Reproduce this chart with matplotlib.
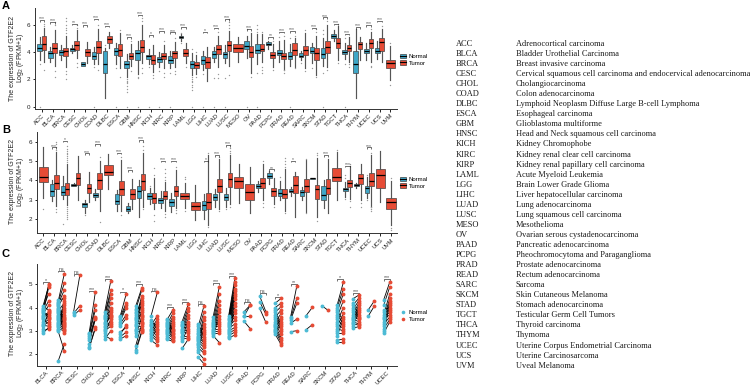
import matplotlib
matplotlib.use("Agg")
import matplotlib.pyplot as plt
from matplotlib.patches import Patch
from matplotlib.lines import Line2D
from matplotlib.legend_handler import HandlerTuple

plt.rcParams['font.family'] = ['Liberation Sans', 'DejaVu Sans']
plt.rcParams['mathtext.default'] = 'regular'

W, H = 750, 385
BLUE = '#3FA7C8'
RED = '#E64B35'
DOT_BLUE = '#4DBBD5'

cancers = ['ACC', 'BLCA', 'BRCA', 'CESC', 'CHOL', 'COAD', 'DLBC', 'ESCA', 'GBM', 'HNSC', 'KICH',
           'KIRC', 'KIRP', 'LAML', 'LGG', 'LIHC', 'LUAD', 'LUSC', 'MESO', 'OV', 'PAAD', 'PCPG',
           'PRAD', 'READ', 'SARC', 'SKCM', 'STAD', 'TGCT', 'THCA', 'THYM', 'UCEC', 'UCS', 'UVM']

full_names = ['Adrenocortical carcinoma', 'Bladder Urothelial Carcinoma', 'Breast invasive carcinoma',
              'Cervical squamous cell carcinoma and endocervical adenocarcinoma', 'Cholangiocarcinoma',
              'Colon adenocarcinoma', 'Lymphoid Neoplasm Diffuse Large B-cell Lymphoma',
              'Esophageal carcinoma', 'Glioblastoma multiforme', 'Head and Neck squamous cell carcinoma',
              'Kidney Chromophobe', 'Kidney renal clear cell carcinoma', 'Kidney renal papillary cell carcinoma',
              'Acute Myeloid Leukemia', 'Brain Lower Grade Glioma', 'Liver hepatocellular carcinoma',
              'Lung adenocarcinoma', 'Lung squamous cell carcinoma', 'Mesothelioma',
              'Ovarian serous cystadenocarcinoma', 'Pancreatic adenocarcinoma',
              'Pheochromocytoma and Paraganglioma', 'Prostate adenocarcinoma', 'Rectum adenocarcinoma',
              'Sarcoma', 'Skin Cutaneous Melanoma', 'Stomach adenocarcinoma', 'Testicular Germ Cell Tumors',
              'Thyroid carcinoma', 'Thymoma', 'Uterine Corpus Endometrial Carcinoma',
              'Uterine Carcinosarcoma', 'Uveal Melanoma']

# box values: low whisker, q1, median, q3, high whisker (None = no box)
a_normal = [[3.4, 4.09, 4.31, 4.56, 5.1], [3.3, 3.6, 3.95, 4.09, 4.4], [3.4, 3.77, 4.0, 4.17, 4.5],
            [3.9, 4.07, 4.2, 4.3, 4.5], [2.95, 2.98, 3.15, 3.24, 3.3], [3.1, 3.52, 3.75, 4.0, 4.4],
            [0.62, 2.5, 3.1, 4.1, 4.3], [3.1, 3.82, 4.05, 4.27, 4.7], [2.2, 2.8, 3.1, 3.35, 3.85],
            [2.4, 3.45, 3.95, 4.15, 4.8], [3.1, 3.48, 3.7, 3.82, 4.2], [2.9, 3.28, 3.5, 3.65, 4.0],
            [2.8, 3.2, 3.45, 3.7, 4.1], [4.85, 5.05, 5.1, 5.15, 5.3], [2.3, 2.8, 3.15, 3.35, 3.9],
            [2.7, 3.1, 3.4, 3.7, 4.1], [3.3, 3.6, 3.85, 4.05, 4.4], [3.2, 3.6, 3.85, 4.0, 4.5], None,
            [3.6, 4.26, 4.46, 4.85, 5.15], [3.1, 3.9, 4.15, 4.58, 5.3], [4.2, 4.5, 4.6, 4.75, 4.8],
            [3.3, 3.77, 3.95, 4.14, 4.8], [3.0, 3.53, 3.75, 4.0, 4.6], [3.4, 3.65, 3.75, 3.9, 4.1],
            [3.2, 3.9, 4.1, 4.38, 4.7], [3.0, 3.6, 3.85, 4.27, 5.0], [4.8, 5.05, 5.2, 5.3, 5.6],
            [3.5, 3.85, 4.0, 4.14, 4.7], [0.62, 2.5, 3.1, 4.1, 5.7], [3.4, 3.9, 4.05, 4.24, 4.7],
            [3.5, 3.9, 4.05, 4.27, 4.8], None]

a_tumor = [[3.3, 4.19, 4.56, 5.17, 5.8], [3.0, 3.97, 4.3, 4.68, 5.6], [2.9, 3.7, 4.05, 4.33, 5.2],
           [3.6, 4.19, 4.55, 4.83, 5.6], [3.2, 3.7, 4.0, 4.2, 4.75], [3.1, 3.95, 4.35, 4.78, 5.7],
           [4.3, 4.68, 4.95, 5.17, 5.5], [2.8, 3.7, 4.15, 4.58, 5.4], [3.0, 3.5, 3.75, 3.95, 4.6],
           [3.2, 4.0, 4.4, 4.87, 6.0], [2.55, 3.16, 3.45, 3.77, 4.5], [2.85, 3.5, 3.7, 3.9, 4.5],
           [2.9, 3.6, 3.9, 4.1, 4.75], [3.2, 3.7, 3.95, 4.2, 4.65], [2.4, 2.85, 3.05, 3.25, 3.8],
           [1.9, 2.85, 3.3, 3.65, 4.4], [2.9, 3.85, 4.2, 4.55, 5.2], [2.95, 4.1, 4.5, 4.85, 5.55],
           [3.3, 4.0, 4.3, 4.6, 5.1], [2.5, 3.65, 4.0, 4.43, 5.4], [3.3, 4.07, 4.25, 4.58, 5.3],
           [2.9, 3.58, 3.8, 4.0, 4.6], [2.7, 3.48, 3.7, 3.97, 4.9], [2.9, 3.82, 4.15, 4.7, 5.0],
           [2.8, 3.82, 4.15, 4.48, 5.4], [2.3, 3.45, 3.95, 4.27, 5.2], [2.9, 3.97, 4.4, 4.83, 6.0],
           [3.4, 4.33, 4.7, 5.0, 5.9], [3.3, 4.1, 4.3, 4.5, 5.1], [3.4, 4.24, 4.6, 4.75, 5.1],
           [3.3, 4.33, 4.7, 4.97, 5.5], [3.3, 4.1, 4.75, 5.05, 5.7], [1.95, 2.82, 3.2, 3.45, 4.45]]

b_normal = [None, [2.9, 3.2, 3.45, 3.79, 4.0], [3.05, 3.25, 3.4, 3.7, 4.25], [3.7, 3.73, 3.78, 3.82, 3.85],
            [2.3, 2.6, 2.75, 2.83, 2.95], [3.0, 3.15, 3.25, 3.32, 3.55], None, [2.4, 2.75, 2.9, 3.3, 3.5],
            [2.3, 2.38, 2.5, 2.64, 2.8], [2.1, 3.06, 3.45, 3.7, 4.0], [2.75, 3.04, 3.2, 3.32, 3.6],
            [2.55, 2.8, 2.95, 3.1, 3.45], [2.35, 2.68, 2.85, 3.05, 3.35], None, None,
            [2.0, 2.43, 2.7, 2.9, 3.3], [2.6, 3.0, 3.15, 3.27, 3.55], [2.6, 3.0, 3.15, 3.3, 3.6], None, None,
            [3.4, 3.58, 3.7, 3.8, 3.95], [3.8, 4.1, 4.25, 4.37, 4.5], [3.0, 3.2, 3.35, 3.53, 3.95],
            [3.2, 3.37, 3.42, 3.57, 3.65], [2.95, 3.2, 3.4, 3.5, 3.65], [4.08, 4.09, 4.1, 4.11, 4.12],
            [2.55, 2.95, 3.25, 3.72, 4.0], None, [3.15, 3.43, 3.55, 3.62, 3.9], [3.6, 3.69, 3.75, 3.8, 3.85],
            [3.1, 3.34, 3.6, 3.7, 4.2], None, None]

b_tumor = [[3.1, 3.9, 4.2, 4.68, 5.75], [2.65, 3.53, 3.85, 4.28, 5.5], [2.7, 3.23, 3.55, 3.88, 4.85],
           [2.95, 3.77, 4.1, 4.4, 5.25], [2.85, 3.32, 3.6, 3.8, 4.45], [2.4, 3.53, 4.0, 4.36, 5.0],
           [3.55, 4.26, 4.45, 4.78, 5.35], [2.4, 3.22, 3.55, 3.98, 5.05], [2.5, 3.04, 3.3, 3.55, 4.05],
           [2.6, 3.5, 3.95, 4.33, 5.45], [2.5, 2.8, 3.1, 3.36, 4.1], [2.4, 3.05, 3.2, 3.45, 3.9],
           [2.55, 3.2, 3.45, 3.72, 4.55], [2.55, 3.04, 3.2, 3.32, 3.85], [1.95, 2.45, 2.65, 2.85, 3.75],
           [1.65, 2.52, 2.85, 3.32, 5.3], [2.5, 3.37, 3.7, 4.05, 5.1], [2.75, 3.67, 4.05, 4.38, 5.3],
           [2.83, 3.58, 3.95, 4.15, 4.85], [2.3, 3.0, 3.38, 3.79, 4.7], [2.95, 3.62, 3.85, 4.1, 4.85],
           [2.75, 3.2, 3.45, 3.6, 4.1], [2.4, 3.06, 3.3, 3.53, 4.6], [2.1, 3.36, 3.75, 4.25, 4.45],
           [2.35, 3.37, 3.7, 4.05, 5.05], [2.1, 3.04, 3.55, 3.77, 5.15], [2.3, 3.27, 3.6, 4.07, 5.1],
           [2.95, 3.95, 4.2, 4.65, 5.5], [3.05, 3.67, 3.85, 4.03, 4.75], [2.95, 3.83, 4.1, 4.35, 4.85],
           [2.6, 3.72, 3.95, 4.37, 5.3], [2.85, 3.62, 4.3, 4.6, 5.55], [1.65, 2.49, 2.85, 3.1, 3.98]]

# outliers, only where they can be seen
a_normal_fliers = {'ACC': [0, 3.1], 'COAD': [0, 2.9], 'DLBC': [4.5], 'ESCA': [0, 2.8], 'GBM': [1.1, 1.3, 1.5, 1.7, 1.8, 1.9, 2.0, 0],
                   'HNSC': [0, 2.2, 2.1], 'KICH': [0, 2.9], 'KIRC': [0, 2.6], 'KIRP': [0, 2.5], 'LAML': [5.4, 4.7],
                   'LGG': [0, 1.2, 1.4, 1.6, 1.8, 1.9, 2.0, 2.15, 4.2], 'LIHC': [0, 2.4], 'LUAD': [0, 2.1],
                   'LUSC': [0, 2.1], 'OV': [0, 5.7], 'PAAD': [0, 2.5, 6.0, 5.7, 5.5], 'READ': [0, 5.0], 'PRAD': [5.1],
                   'STAD': [0, 2.5, 5.3, 5.6], 'THCA': [0, 3.1, 5.0], 'SARC': [3.2], 'SKCM': [2.8]}
a_tumor_fliers = {'ACC': [2.67, 6.1, 5.95], 'BLCA': [2.2, 2.6, 6.0, 6.2], 'BRCA': [2.05, 2.4, 2.6, 5.4, 5.6, 5.8, 6.0, 6.25, 6.5],
                  'CESC': [2.9, 3.2, 5.8, 6.0], 'COAD': [2.7, 6.0], 'ESCA': [2.2, 5.6], 'GBM': [2.6, 4.8],
                  'HNSC': [2.5, 2.8, 6.3, 6.5], 'KICH': [2.1, 2.3], 'KIRC': [2.2, 2.5, 4.8], 'KIRP': [2.4, 2.6, 5.0],
                  'LAML': [2.9], 'LGG': [2.2, 4.0], 'LUAD': [2.1, 2.4, 5.5], 'LUSC': [2.3, 5.8, 6.0, 6.2, 6.4],
                  'OV': [2.2], 'PAAD': [2.5, 2.7, 2.9, 5.5], 'PCPG': [2.7, 4.8], 'PRAD': [2.5, 2.7, 5.2], 'READ': [2.8, 5.2],
                  'SARC': [2.6, 5.6], 'SKCM': [2.2, 5.5, 5.7], 'STAD': [2.7, 6.3], 'TGCT': [3.2, 6.1], 'THCA': [2.9, 3.1],
                  'UCEC': [2.9, 3.0, 5.7], 'UCS': [5.9], 'UVM': [1.6, 4.65]}
b_normal_fliers = {'BRCA': [1.7], 'CHOL': [2.2], 'KICH': [3.7], 'LUSC': [2.5], 'UCEC': [4.3, 2.95], 'PRAD': [4.2], 'THCA': [4.1, 4.3, 3.05]}
b_tumor_fliers = {'ACC': [2.5], 'BLCA': [2.35, 2.5, 5.6, 5.75, 5.9, 6.0],
                  'BRCA': [2.0, 2.1, 2.2, 2.3, 2.4, 2.5, 2.6, 4.95, 5.05, 5.15, 5.25, 5.35, 5.45, 5.55, 5.65, 5.8],
                  'COAD': [1.85, 5.2], 'ESCA': [2.2, 5.2], 'HNSC': [2.5, 5.6, 5.8, 6.0], 'KICH': [1.9, 2.2, 4.65, 4.3],
                  'KIRC': [2.1, 2.25, 4.0, 4.2, 4.4, 4.6], 'KIRP': [2.3, 2.45, 4.7], 'LAML': [2.4, 4.2, 4.05],
                  'LIHC': [1.55, 5.4], 'LUAD': [2.4, 5.2], 'LUSC': [2.6, 5.4, 5.55, 5.7, 5.85], 'PAAD': [2.6, 2.8, 5.0],
                  'PCPG': [2.6], 'PRAD': [2.3, 4.7, 4.85, 5.0, 5.15], 'SARC': [2.3, 5.1], 'SKCM': [1.9, 5.3, 5.4],
                  'TGCT': [5.6], 'THCA': [2.6, 2.9, 4.85], 'UCEC': [2.4, 2.5, 2.6, 5.4], 'THYM': [2.6, 2.8], 'UVM': [1.4, 1.5, 4.1]}

# significance brackets: y of the bracket and its label
a_sig_names = ['ACC', 'BLCA', 'CESC', 'CHOL', 'COAD', 'DLBC', 'GBM', 'HNSC', 'KICH', 'KIRC', 'KIRP', 'LAML', 'LIHC',
               'LUAD', 'LUSC', 'OV', 'PCPG', 'PRAD', 'READ', 'SKCM', 'STAD', 'TGCT', 'THCA', 'THYM', 'UCEC', 'UCS']
a_sig_y = [6.35, 6.2, 6.1, 6.0, 6.45, 5.93, 5.1, 6.75, 5.25, 5.55, 5.45, 5.85, 5.5,
           5.8, 6.42, 5.7, 5.1, 5.5, 5.55, 5.8, 6.55, 6.1, 5.35, 5.85, 5.98, 6.3]
a_sig_txt = ['***', '***', '**', '***', '***', '***', '***', '***', '*', '***', '***', '***', '*',
             '***', '***', '***', '**', '***', '***', '***', '***', '***', '***', '***', '***', '***']
b_sig_names = ['BLCA', 'BRCA', 'CHOL', 'COAD', 'ESCA', 'GBM', 'HNSC', 'KIRC', 'KIRP', 'LIHC', 'LUAD', 'LUSC',
               'PCPG', 'READ', 'STAD', 'THCA', 'UCEC']
b_sig_y = [5.72, 6.07, 5.4, 5.88, 5.44, 4.54, 6.1, 5.03, 5.03, 5.03, 5.32, 5.85, 4.57, 5.03, 5.32, 4.77, 5.72]
b_sig_txt = ['***', '*', '***', '***', '***', '***', '***', '***', '***', '*', '***', '***', '**', '*', '***', '***', '***']

paired = ['BLCA', 'BRCA', 'CESC', 'CHOL', 'COAD', 'ESCA', 'HNSC', 'KICH', 'KIRC', 'KIRP', 'LIHC', 'LUAD', 'LUSC',
          'PAAD', 'PCPG', 'PRAD', 'READ', 'SARC', 'SKCM', 'STAD', 'THCA', 'THYM', 'UCEC']
c_sig_y = [5.11, 5.59, 5.43, 4.73, 5.21, 4.69, 5.0, 4.73, 4.01, 4.23, 4.16, 5.04, 5.36,
           4.23, 4.61, 4.47, 5.01, None, None, 5.23, 4.64, None, 5.21]
c_sig_txt = ['*', 'ns', 'ns', '***', '***', '*', '***', 'ns', '***', '***', 'ns', '***', '***',
             'ns', 'ns', '*', '**', '', '', '*', '***', '', '***']

c_normal = [
    [2.9, 3.0, 3.1, 3.2, 3.25, 3.3, 3.4, 3.5, 3.55, 3.6, 3.65, 3.7, 3.75, 3.8, 3.85, 3.9, 3.95, 4.0, 4.05],
    [1.7, 3.0, 3.05, 3.1, 3.15, 3.2, 3.25, 3.3, 3.35, 3.4, 3.45, 3.5, 3.55, 3.6, 3.65, 3.7, 3.75, 3.8, 3.85, 3.9, 3.95, 4.0, 4.05, 4.1, 4.15, 4.2, 4.25, 4.32],
    [3.68, 3.75, 3.82],
    [2.25, 2.3, 2.45, 2.6, 2.7, 2.8, 2.85, 2.9],
    [2.65, 2.8, 2.9, 3.0, 3.05, 3.1, 3.15, 3.2, 3.3, 3.35, 3.4, 3.5, 3.55, 3.6, 3.65, 3.7, 3.8],
    [2.65, 2.75, 2.85, 2.95, 3.2, 3.3, 3.4, 3.5, 3.6, 3.62],
    [2.1, 2.2, 2.35, 2.8, 2.9, 3.0, 3.05, 3.1, 3.2, 3.25, 3.3, 3.4, 3.45, 3.5, 3.55, 3.6, 3.7, 3.75, 3.8, 3.9, 3.95, 4.05],
    [2.6, 2.7, 2.8, 2.85, 2.9, 3.0, 3.05, 3.1, 3.2, 3.25, 3.3, 3.4, 3.45, 3.65],
    [2.65, 2.7, 2.8, 2.85, 2.9, 2.95, 3.0, 3.05, 3.1, 3.15, 3.2, 3.25, 3.3, 3.35, 3.4, 3.45, 3.5],
    [2.25, 2.55, 2.65, 2.75, 2.8, 2.9, 2.95, 3.0, 3.05, 3.1, 3.2, 3.25, 3.3, 3.4],
    [1.9, 2.1, 2.2, 2.3, 2.4, 2.45, 2.5, 2.55, 2.6, 2.65, 2.7, 2.75, 2.8, 2.85, 2.9, 3.0, 3.1, 3.2, 3.3],
    [2.8, 2.85, 2.9, 2.95, 3.0, 3.05, 3.1, 3.15, 3.2, 3.25, 3.3, 3.35, 3.4, 3.45, 3.6],
    [2.69, 2.75, 2.8, 2.85, 2.9, 2.95, 3.0, 3.05, 3.1, 3.15, 3.2, 3.25, 3.3, 3.35, 3.4, 3.45, 3.5, 3.55, 3.64],
    [3.83, 3.64, 3.64, 3.41],
    [4.5, 4.26, 3.97],
    [2.86, 2.95, 3.0, 3.05, 3.1, 3.15, 3.2, 3.25, 3.3, 3.4, 3.5, 3.6, 3.7, 3.8, 3.9, 4.0, 4.19],
    [2.97, 3.33, 3.47, 3.55, 3.61],
    [3.06, 3.66],
    [4.09],
    [2.51, 2.6, 2.8, 2.9, 3.0, 3.1, 3.2, 3.3, 3.4, 3.5, 3.6, 3.7, 3.8, 3.9, 4.0, 4.11],
    [3.11, 3.2, 3.3, 3.35, 3.4, 3.45, 3.5, 3.55, 3.6, 3.7, 3.8, 3.9, 4.0, 4.1, 4.2, 4.37],
    [3.63, 3.9],
    [2.9, 3.0, 3.1, 3.2, 3.3, 3.4, 3.5, 3.55, 3.6, 3.7, 3.8, 3.9, 4.1, 4.33],
]
# tumor partner of each normal value above, so lines cross as in the picture
c_tumor = [
    [3.15, 3.1, 3.85, 3.4, 3.2, 3.5, 3.6, 3.3, 3.75, 4.9, 3.8, 4.1, 3.7, 4.3, 5.0, 3.55, 4.6, 4.95, 3.9],
    [2.45, 2.15, 3.6, 3.0, 4.1, 3.05, 4.3, 3.1, 3.7, 3.15, 3.8, 3.2, 3.9, 3.25, 4.0, 3.3, 3.5, 3.35, 4.2, 3.4, 3.55, 2.9, 4.5, 3.45, 4.75, 5.05, 5.45, 4.4],
    [3.9, 4.08, 5.38],
    [3.1, 3.15, 3.5, 3.55, 3.6, 3.9, 4.1, 4.65],
    [3.0, 2.65, 3.5, 3.2, 3.8, 3.3, 4.0, 3.4, 3.6, 4.2, 3.65, 4.4, 3.7, 3.9, 4.6, 4.75, 5.15],
    [2.8, 2.95, 3.25, 3.15, 3.55, 3.7, 4.0, 4.1, 4.2, 4.6],
    [2.95, 3.0, 3.3, 3.6, 3.05, 3.9, 3.1, 4.2, 3.2, 4.4, 3.35, 3.7, 3.4, 4.5, 3.5, 4.1, 3.65, 4.3, 3.8, 4.75, 4.0, 4.85],
    [2.4, 3.1, 2.55, 3.3, 2.65, 3.4, 2.75, 3.5, 2.85, 3.65, 2.95, 3.2, 3.05, 4.65],
    [2.55, 3.2, 2.6, 3.3, 2.7, 3.4, 2.75, 3.5, 2.8, 3.6, 2.85, 3.75, 2.9, 3.0, 3.05, 3.9, 3.1],
    [2.65, 3.2, 2.7, 3.4, 2.8, 3.55, 2.9, 3.7, 3.0, 3.85, 3.1, 4.0, 3.3, 4.15],
    [1.6, 1.8, 3.05, 2.05, 3.3, 2.15, 3.45, 2.3, 3.6, 2.4, 2.95, 2.5, 3.15, 2.55, 3.8, 2.65, 4.05, 2.75, 2.85],
    [2.5, 3.5, 2.9, 3.65, 3.0, 3.8, 3.1, 3.95, 3.2, 4.1, 3.3, 4.3, 3.4, 4.6, 4.9],
    [2.83, 3.9, 2.95, 4.05, 3.05, 4.2, 3.15, 4.35, 3.3, 4.5, 3.45, 4.6, 3.6, 4.7, 3.75, 4.8, 4.95, 5.1, 5.26],
    [4.11, 3.64, 4.11, 3.09],
    [3.83, 3.71, 3.37],
    [2.4, 3.3, 2.5, 3.4, 2.6, 3.5, 2.7, 3.6, 2.85, 3.75, 3.0, 3.9, 3.1, 4.05, 3.2, 4.2, 4.4],
    [3.01, 3.51, 4.19, 4.4, 4.94],
    [3.27, 4.01],
    [3.89],
    [2.51, 2.65, 3.5, 2.9, 3.6, 3.0, 3.75, 3.1, 4.0, 3.2, 4.3, 3.3, 4.6, 3.4, 4.8, 5.09],
    [3.19, 3.8, 3.25, 3.9, 3.3, 4.0, 3.4, 4.1, 3.5, 4.2, 3.55, 4.3, 3.6, 4.4, 3.7, 4.54],
    [4.07, 4.29],
    [3.4, 4.1, 3.5, 4.2, 3.6, 4.3, 3.7, 4.4, 3.8, 4.6, 3.9, 4.0, 4.9, 5.11],
]


def px_axes(left, top, right, bottom):
    return fig.add_axes([left / W, 1 - bottom / H, (right - left) / W, (bottom - top) / H])


def style(ax, names, yticks, yc):
    for s in ['top', 'right']:
        ax.spines[s].set_visible(False)
    for s in ['left', 'bottom']:
        ax.spines[s].set_linewidth(0.7)
        ax.spines[s].set_color('#333333')
    ax.set_xticks(range(len(names)))
    ax.set_xticklabels(names, rotation=45, ha='right', rotation_mode='anchor', fontsize=4.3, color='#222222')
    ax.set_yticks(yticks)
    ax.tick_params(axis='y', labelsize=4.5, length=1.8, width=0.6, pad=1.5, labelcolor='#222222')
    ax.tick_params(axis='x', length=1.8, width=0.6, pad=1.2)
    fig.text(17.5 / W, 1 - yc / H, 'The expression of GTF2E2\nLog$_2$ (FPKM+1)', rotation=90, fontsize=5,
             va='center', ha='center', multialignment='center', linespacing=0.8, color='#222222')


def draw_boxes(ax, values, fliers, color, shift, other):
    stats, pos, widths = [], [], []
    for i, v in enumerate(values):
        if v is None:
            continue
        stats.append(dict(whislo=v[0], q1=v[1], med=v[2], q3=v[3], whishi=v[4], fliers=fliers.get(cancers[i], [])))
        if other[i] is None:
            pos.append(i)
            widths.append(0.85)
        else:
            pos.append(i + shift)
            widths.append(0.42)
    ax.bxp(stats, positions=pos, widths=widths, patch_artist=True, showcaps=False, manage_ticks=False,
           boxprops=dict(facecolor=color, edgecolor='#333333', linewidth=0.45),
           medianprops=dict(color='black', linewidth=0.9),
           whiskerprops=dict(color='#555555', linewidth=0.85),
           flierprops=dict(marker='o', markersize=1.0, markerfacecolor='#999999', markeredgecolor='none'))


def bracket(ax, x, y, label, tip, dx, size, color, gap):
    ax.plot([x - dx, x - dx, x + dx, x + dx], [y - tip, y, y, y - tip], color='#222222', lw=0.45, solid_capstyle='butt')
    ax.text(x, y + gap, label, ha='center', va='baseline', fontsize=size, color=color)


fig = plt.figure(figsize=(W / 100, H / 100), dpi=100)

# panel A
ax_a = px_axes(35, 8, 397, 109)
draw_boxes(ax_a, a_normal, a_normal_fliers, BLUE, -0.2, a_tumor)
draw_boxes(ax_a, a_tumor, a_tumor_fliers, RED, 0.2, a_normal)
for n, y, t in zip(a_sig_names, a_sig_y, a_sig_txt):
    bracket(ax_a, cancers.index(n), y, t, 0.12, 0.2, 3.6, '#555555', -0.02)
ax_a.set_xlim(-0.615, 32.6)
ax_a.set_ylim(-0.18, 7.24)
style(ax_a, cancers, [0, 2, 4, 6], 58)

# panel B
ax_b = px_axes(36.7, 132, 397, 233.3)
draw_boxes(ax_b, b_normal, b_normal_fliers, BLUE, -0.2, b_tumor)
draw_boxes(ax_b, b_tumor, b_tumor_fliers, RED, 0.2, b_normal)
for n, y, t in zip(b_sig_names, b_sig_y, b_sig_txt):
    bracket(ax_b, cancers.index(n), y, t, 0.09, 0.2, 3.6, '#555555', -0.01)
ax_b.set_xlim(-0.6, 32.55)
ax_b.set_ylim(1.24, 6.52)
style(ax_b, cancers, [2, 3, 4, 5, 6], 181.7)

# panel C
ax_c = px_axes(36.7, 264, 397, 365.7)
for i in range(len(paired)):
    for a, b in zip(c_normal[i], c_tumor[i]):
        ax_c.plot([i - 0.2, i + 0.2], [a, b], color='black', lw=0.6, zorder=2)
    ax_c.plot([i - 0.2] * len(c_normal[i]), c_normal[i], 'o', ms=2.8, color=DOT_BLUE, mew=0, zorder=3)
    ax_c.plot([i + 0.2] * len(c_tumor[i]), c_tumor[i], 'o', ms=2.8, color=RED, mew=0, zorder=3)
    if c_sig_y[i] is not None:
        bracket(ax_c, i, c_sig_y[i], c_sig_txt[i], 0.08, 0.2, 3.8, '#444444', 0.0)
ax_c.set_xlim(-0.58, 22.66)
ax_c.set_ylim(1.51, 5.87)
style(ax_c, paired, [2, 3, 4, 5], 313)


def box_key(color):
    return (Patch(facecolor=color, edgecolor='#333333', linewidth=0.45),
            Line2D([0], [0], color='black', lw=0.8))


for ax, yc in [(ax_a, 59.7), (ax_b, 182.7)]:
    ax.legend([box_key(BLUE), box_key(RED)], ['Normal', 'Tumor'], loc='center left',
              bbox_to_anchor=(400 / W, 1 - yc / H), bbox_transform=fig.transFigure, frameon=False, fontsize=4.3,
              handlelength=1.0, handleheight=0.8, handletextpad=0.5, labelspacing=0.2, borderpad=0, borderaxespad=0,
              handler_map={tuple: HandlerTuple(ndivide=1, pad=0)})
ax_c.legend([Line2D([0], [0], marker='o', ls='', ms=2.6, color=DOT_BLUE, mew=0),
             Line2D([0], [0], marker='o', ls='', ms=2.6, color=RED, mew=0)], ['Normal', 'Tumor'], loc='center left',
            bbox_to_anchor=(400 / W, 1 - 316 / H), bbox_transform=fig.transFigure, frameon=False, fontsize=4.3,
            handlelength=1.0, handletextpad=0.5, labelspacing=0.2, borderpad=0, borderaxespad=0)

for letter, yl in zip('ABC', [6, 130, 254]):
    fig.text(2 / W, 1 - yl / H, letter, fontsize=8, fontweight='bold', va='center', ha='left', color='black')

# abbreviation table
for i, (c, name) in enumerate(zip(cancers, full_names)):
    yp = 1 - (44 + 10.05 * i) / H
    fig.text(456 / W, yp, c, family=['Liberation Serif'], fontsize=6.0, va='center', color='#1a1a1a')
    fig.text(516 / W, yp, name, family=['Liberation Serif'], fontsize=6.0, va='center', color='#1a1a1a')

fig.savefig('out.png', dpi=100)
